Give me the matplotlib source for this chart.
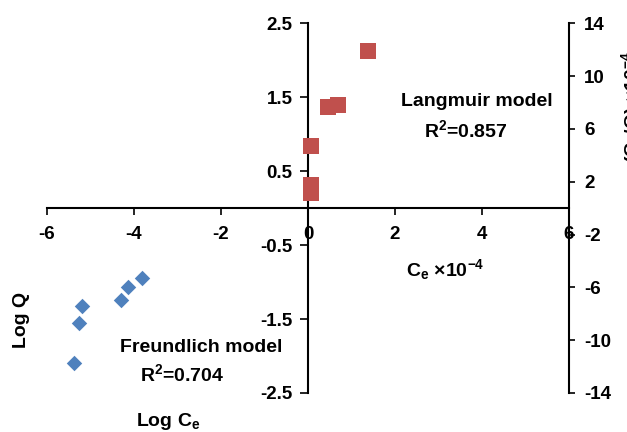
import matplotlib.pyplot as plt

plt.rcParams['font.family'] = 'Liberation Sans'
plt.rcParams['font.weight'] = 'bold'
plt.rcParams['axes.unicode_minus'] = False
plt.rcParams['mathtext.fontset'] = 'custom'
plt.rcParams['mathtext.rm'] = 'Liberation Sans:bold'
plt.rcParams['mathtext.it'] = 'Liberation Sans:bold'
plt.rcParams['mathtext.bf'] = 'Liberation Sans:bold'

# Freundlich isotherm: log Ce vs log Q
freundlich_log_ce = [-3.82, -4.13, -4.30, -5.20, -5.26, -5.37]
freundlich_log_q = [-0.94, -1.06, -1.24, -1.32, -1.55, -2.10]

# Langmuir isotherm: Ce vs Ce/Q (both x10^-4)
langmuir_ce = [1.37, 0.47, 0.70, 0.06, 0.06, 0.08]
langmuir_ce_q = [11.88, 7.67, 7.85, 4.69, 1.74, 1.16]

x_ticks = [-6, -4, -2, 0, 2, 4, 6]
log_q_ticks = [2.5, 1.5, 0.5, -0.5, -1.5, -2.5]
ce_q_ticks = [14, 10, 6, 2, -2, -6, -10, -14]

blue = '#4F81BD'
red = '#C0504D'
fs = 13.5

fig = plt.figure(figsize=(6.27, 4.32), dpi=100)
ax = fig.add_axes([0.075, 0.0903, 0.8325, 0.8557])
ax2 = ax.twinx()

ax.scatter(freundlich_log_ce, freundlich_log_q, marker='D', s=62, color=blue, linewidths=0, zorder=3)
ax2.scatter(langmuir_ce, langmuir_ce_q, marker='s', s=120, color=red, linewidths=0, zorder=3)

ax.set_xlim(-6, 6)
ax.set_ylim(-2.5, 2.5)
ax2.set_ylim(-14, 14)
ax.set_xticks(x_ticks)
ax.set_yticks(log_q_ticks)
ax2.set_yticks(ce_q_ticks)

# cross-shaped axes through the origin
ax.spines['left'].set_position(('data', 0))
ax.spines['bottom'].set_position(('data', 0))
ax.spines['top'].set_visible(False)
ax.spines['right'].set_visible(False)
for s in ['left', 'top', 'bottom']:
    ax2.spines[s].set_visible(False)
for sp in [ax.spines['left'], ax.spines['bottom'], ax2.spines['right']]:
    sp.set_linewidth(1.5)

ax.tick_params(axis='x', direction='out', length=5, width=1.2, pad=8, labelsize=fs)
ax.tick_params(axis='y', direction='out', length=6, width=1.2, pad=5, labelsize=fs)
ax2.tick_params(axis='y', direction='out', length=4, width=1.2, pad=7, labelsize=fs)
for lab in ax.get_xticklabels() + ax.get_yticklabels() + ax2.get_yticklabels():
    lab.set_fontweight('bold')

ax.patch.set_visible(False)

fig.text(477 / 627, 1 - 102 / 432, 'Langmuir model', ha='center', va='center', fontsize=14)
fig.text(466 / 627, 1 - 130 / 432, r'R$^2$=0.857', ha='center', va='center', fontsize=14)
fig.text(201 / 627, 1 - 348 / 432, 'Freundlich model', ha='center', va='center', fontsize=14)
fig.text(182 / 627, 1 - 374 / 432, r'R$^2$=0.704', ha='center', va='center', fontsize=14)

fig.text(21 / 627, 1 - 320 / 432, 'Log Q', rotation=90, ha='center', va='center', fontsize=14)
fig.text(168 / 627, 1 - 421 / 432, r'Log C$_e$', ha='center', va='center', fontsize=14)
fig.text(445 / 627, 1 - 270 / 432, r'C$_e$ ×10$^{-4}$', ha='center', va='center', fontsize=14)
fig.text(619 / 627, 1 - 107 / 432, r'(C$_e$/Q) ×10$^{-4}$', rotation=90, ha='left', va='center', fontsize=14)

fig.savefig('out.png', dpi=100)
